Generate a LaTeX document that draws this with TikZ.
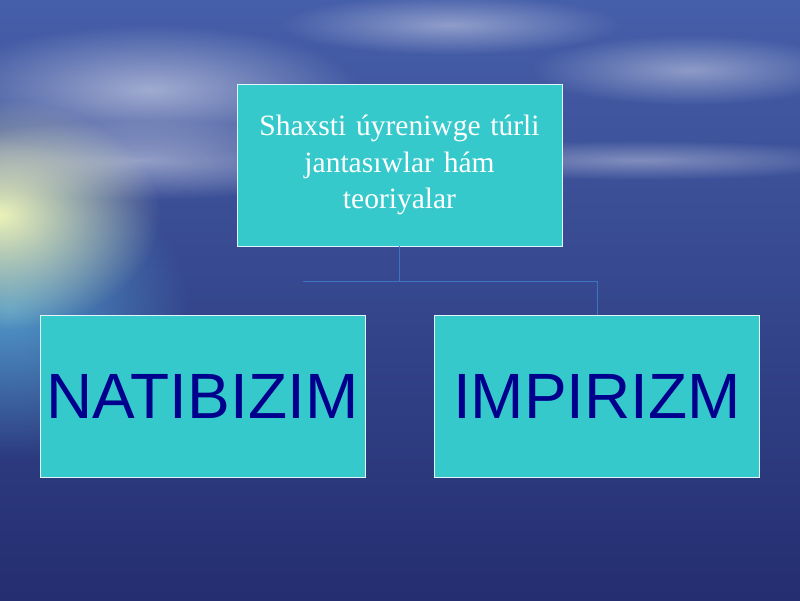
\documentclass[tikz,border=0pt]{standalone}
\usepackage{fontspec}
\setmainfont{Liberation Serif}
\newfontfamily\boxfont{Liberation Sans}
\usetikzlibrary{fadings}
\definecolor{boxfill}{RGB}{54,201,204}
\definecolor{boxtext}{RGB}{0,0,140}
\definecolor{boxline}{RGB}{225,245,250}
\definecolor{linecol}{RGB}{60,115,195}
\definecolor{skytop}{RGB}{70,95,170}
\definecolor{seamid}{RGB}{58,78,162}
\definecolor{seabot}{RGB}{36,46,112}
\definecolor{sunlight}{RGB}{245,250,185}
\definecolor{seaglow}{RGB}{90,185,225}
\tikzfading[name=glow, inner color=transparent!0, outer color=transparent!100]
\tikzstyle{chartbox}=[draw=boxline, fill=boxfill, line width=0.8pt, inner sep=0pt, minimum width=325pt, minimum height=162pt]
\tikzstyle{bigword}=[text=boxtext, font=\boxfont\fontsize{64}{70}\selectfont]
\tikzstyle{edge}=[draw=linecol, line width=0.8pt]

\begin{document}
\begin{tikzpicture}[x=1pt,y=1pt]

      \useasboundingbox (0,0) rectangle (800,600);

      % sky and sea
      \shade[top color=skytop, middle color=seamid, bottom color=seabot] (0,0) rectangle (800,600);
      \fill[white, opacity=0.50, path fading=glow] (150,510) ellipse (210 and 65);
      \fill[white, opacity=0.40, path fading=glow] (450,575) ellipse (170 and 30);
      \fill[white, opacity=0.40, path fading=glow] (690,530) ellipse (160 and 35);
      \fill[white, opacity=0.35, path fading=glow] (640,440) ellipse (230 and 20);
      \fill[white, opacity=0.45, path fading=glow] (140,440) ellipse (230 and 40);
      \fill[seaglow, opacity=0.70, path fading=glow] (10,290) ellipse (180 and 150);
      \fill[sunlight, opacity=0.95, path fading=glow] (0,385) ellipse (160 and 115);

      \node[chartbox, text width=310pt, align=center, text=white,
            font=\fontsize{29.5}{36.5}\selectfont] (top) at (399.5,435)
            {Shaxsti úyreniwge túrli\\ jantasıwlar hám\\ teoriyalar};
      \node[chartbox, bigword] (natibizim) at (202.5,204) {NATIBIZIM};
      \node[chartbox, bigword] (impirizm) at (597,204) {IMPIRIZM};

      \coordinate (barL) at (303,319);

      \path[edge] (top.south) -- (top.south |- barL);
      \path[edge] (barL) -| (impirizm.north);

    \end{tikzpicture}
\end{document}
